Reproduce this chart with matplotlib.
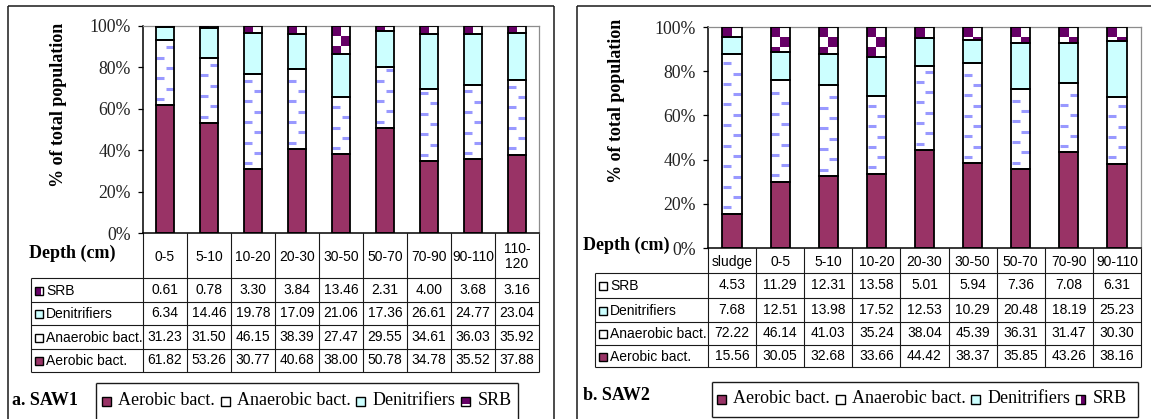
import numpy as np
import matplotlib
matplotlib.use("Agg")
import matplotlib.pyplot as plt
from matplotlib.patches import Rectangle

W, H, DPI = 1151, 419, 100

# ---- data -------------------------------------------------------------
depths_a = ["0-5", "5-10", "10-20", "20-30", "30-50", "50-70", "70-90", "90-110", "110-\n120"]
aerobic_a = [61.82, 53.26, 30.77, 40.68, 38.00, 50.78, 34.78, 35.52, 37.88]
anaerobic_a = [31.23, 31.50, 46.15, 38.39, 27.47, 29.55, 34.61, 36.03, 35.92]
denitrifiers_a = [6.34, 14.46, 19.78, 17.09, 21.06, 17.36, 26.61, 24.77, 23.04]
srb_a = [0.61, 0.78, 3.30, 3.84, 13.46, 2.31, 4.00, 3.68, 3.16]

depths_b = ["sludge", "0-5", "5-10", "10-20", "20-30", "30-50", "50-70", "70-90", "90-110"]
aerobic_b = [15.56, 30.05, 32.68, 33.66, 44.42, 38.37, 35.85, 43.26, 38.16]
anaerobic_b = [72.22, 46.14, 41.03, 35.24, 38.04, 45.39, 36.31, 31.47, 30.30]
denitrifiers_b = [7.68, 12.51, 13.98, 17.52, 12.53, 10.29, 20.48, 18.19, 25.23]
srb_b = [4.53, 11.29, 12.31, 13.58, 5.01, 5.94, 7.36, 7.08, 6.31]

legend_names = ["Aerobic bact.", "Anaerobic bact.", "Denitrifiers", "SRB"]
table_names = ["SRB", "Denitrifiers", "Anaerobic bact.", "Aerobic bact."]
y_ticks = [0, 20, 40, 60, 80, 100]

# ---- style ------------------------------------------------------------
AEROBIC_C = "#993366"
DENIT_C = "#CCFFFF"
SRB_C = "#660066"
DASH_C = "#9999FF"
SERIF = ["Liberation Serif", "DejaVu Serif"]
SANS = ["Liberation Sans", "DejaVu Sans"]
LINE_C = "#1a1a1a"

fig = plt.figure(figsize=(W / DPI, H / DPI), dpi=DPI)
over = fig.add_axes([0, 0, 1, 1], zorder=0)
over.set_xlim(0, W)
over.set_ylim(H, 0)
over.axis("off")


def px_axes(x0, y0, x1, y1):
    ax = fig.add_axes([x0 / W, 1 - y1 / H, (x1 - x0) / W, (y1 - y0) / H], zorder=1)
    ax.set_facecolor("none")
    return ax


def hline(x0, x1, y, lw=0.8, color=LINE_C):
    over.plot([x0, x1], [y, y], color=color, lw=lw, solid_capstyle="butt")


def vline(x, y0, y1, lw=0.8, color=LINE_C):
    over.plot([x, x], [y0, y1], color=color, lw=lw, solid_capstyle="butt")


def draw_icon(x, yc, name, size, srb_style):
    y0 = yc - size / 2
    if name == "Aerobic bact.":
        over.add_patch(Rectangle((x, y0), size, size, fc=AEROBIC_C, ec="black", lw=1.0))
    elif name == "Anaerobic bact.":
        over.add_patch(Rectangle((x, y0), size, size, fc="white", ec="black", lw=1.0))
    elif name == "Denitrifiers":
        over.add_patch(Rectangle((x, y0), size, size, fc=DENIT_C, ec="black", lw=1.0))
    else:
        over.add_patch(Rectangle((x, y0), size, size, fc="white", ec="none"))
        if srb_style == "full":
            over.add_patch(Rectangle((x, y0), size, size * 0.8, fc=SRB_C, ec="none"))
        elif srb_style == "left":
            over.add_patch(Rectangle((x, y0), size * 0.7, size, fc=SRB_C, ec="none"))
        elif srb_style == "right":
            over.add_patch(Rectangle((x + size * 0.5, y0), size * 0.5, size, fc=SRB_C, ec="none"))
        over.add_patch(Rectangle((x, y0), size, size, fc="none", ec="black", lw=1.0))


def draw_stack(ax, cfg, aer, ana, den, srb):
    n = len(aer)
    x = np.arange(n)
    w = cfg["bar_w"]
    px0, py0, px1, py1 = cfg["plot"]
    unit = 100.0 / (py1 - py0)  # data units per pixel
    layers = [(aer, AEROBIC_C, None), (ana, "white", "dash"),
              (den, DENIT_C, None), (srb, "white", "check")]
    bottom = np.zeros(n)
    for vals, fc, pat in layers:
        vals = np.asarray(vals, dtype=float)
        ax.bar(x, vals, w, bottom=bottom, color=fc, edgecolor="none", zorder=2)
        if pat == "dash":
            step = 10.3 * unit
            for i in range(n):
                b, t = bottom[i], bottom[i] + vals[i]
                y = b + step * 0.6
                k = 0
                while y < t - step * 0.3:
                    if k % 2 == 0:
                        xa, xb = x[i] - w / 2 + 0.04 * w, x[i] - w / 2 + 0.46 * w
                    else:
                        xa, xb = x[i] - w / 2 + 0.54 * w, x[i] - w / 2 + 0.96 * w
                    ax.plot([xa, xb], [y, y], color=DASH_C, lw=2.2,
                            solid_capstyle="butt", zorder=3)
                    y += step
                    k += 1
        elif pat == "check":
            ch = 10.0 * unit
            for i in range(n):
                b, t = bottom[i], bottom[i] + vals[i]
                r = 0
                while t - r * ch > b + 1e-9:
                    ya = max(t - (r + 1) * ch, b)
                    yb = t - r * ch
                    cx0 = x[i] - w / 2 + (r % 2) * w / 2
                    ax.add_patch(Rectangle((cx0, ya), w / 2, yb - ya, fc=SRB_C,
                                           ec="none", zorder=3))
                    r += 1
        ax.bar(x, vals, w, bottom=bottom, fill=False, edgecolor="black", lw=1.3, zorder=4)
        bottom += vals


def draw_panel(cfg, cats, aer, ana, den, srb):
    px0, py0, px1, py1 = cfg["plot"]
    n = len(cats)

    # outer frame of the panel
    fx0, fy0, fx1 = cfg["frame"]
    hline(fx0, fx1 if fx1 else W, fy0, lw=1.1)
    vline(fx0, fy0, H, lw=1.1)
    if fx1:
        vline(fx1, fy0, H, lw=1.1)

    ax = px_axes(px0, py0, px1, py1)
    draw_stack(ax, cfg, aer, ana, den, srb)
    ax.set_xlim(-0.5, n - 0.5)
    ax.set_ylim(0, 100)
    ax.set_xticks([])
    ax.set_yticks(y_ticks)
    ax.set_yticklabels([f"{t}%" for t in y_ticks], fontfamily=SERIF, fontsize=12.8,
                       color="#222222")
    ax.tick_params(axis="y", direction="out", length=3.6, width=0.9, pad=5.0,
                   color="black")
    for side in ("top", "right"):
        ax.spines[side].set_color("#8c8c8c")
        ax.spines[side].set_linewidth(0.9)
    for side in ("left", "bottom"):
        ax.spines[side].set_color("black")
        ax.spines[side].set_linewidth(1.1)
    ax.set_ylabel("% of total population", fontfamily=SERIF, fontsize=13,
                  fontweight="bold")
    lx, ly = cfg["ylabel"]
    ax.yaxis.set_label_coords((lx - px0) / (px1 - px0), (py1 - ly) / (py1 - py0))

    # data table
    xs = np.linspace(px0, px1, n + 1)
    rows = cfg["rows"]
    tl = cfg["table_left"]
    for xe in xs:
        vline(xe, py1, rows[-1])
    vline(tl, rows[0], rows[-1])
    for yr in rows:
        hline(tl, px1, yr)
    hc = (py1 + rows[0]) / 2
    for i, c in enumerate(cats):
        over.text((xs[i] + xs[i + 1]) / 2, hc + 1, c, ha="center", va="center",
                  fontfamily=SANS, fontsize=10, linespacing=1.15)
    over.text(cfg["depth"][0], cfg["depth"][1], "Depth (cm)", ha="left", va="center",
              fontfamily=SERIF, fontsize=13, fontweight="bold")

    series = {"SRB": srb, "Denitrifiers": den, "Anaerobic bact.": ana, "Aerobic bact.": aer}
    for r, name in enumerate(table_names):
        yc = (rows[r] + rows[r + 1]) / 2
        draw_icon(tl + 4, yc + 1, name, 8, cfg["srb_table"])
        over.text(tl + 15, yc + 1, name, ha="left", va="center", fontfamily=SANS,
                  fontsize=10)
        for i, v in enumerate(series[name]):
            over.text((xs[i] + xs[i + 1]) / 2, yc, f"{v:.2f}", ha="center", va="center",
                      fontfamily=SANS, fontsize=10)

    # caption
    over.text(cfg["caption_pos"][0], cfg["caption_pos"][1], cfg["caption"], ha="left",
              va="center", fontfamily=SERIF, fontsize=13, fontweight="bold")

    # legend box
    bx0, by0, bx1, by1 = cfg["legend_box"]
    hline(bx0, bx1, by0, lw=1.0)
    vline(bx0, by0, by1, lw=1.0)
    vline(bx1, by0, by1, lw=1.0)
    if by1 < H:
        hline(bx0, bx1, by1, lw=1.0)
    renderer = fig.canvas.get_renderer()
    lxp, lyp = cfg["legend_start"]
    for name in legend_names:
        draw_icon(lxp, lyp + 1, name, 9, cfg["srb_legend"])
        lxp += 9 + 7
        t = over.text(lxp, lyp, name, ha="left", va="center", fontfamily=SERIF,
                      fontsize=13)
        lxp += t.get_window_extent(renderer).width + 6


cfg_a = dict(plot=(143, 26, 539, 233), bar_w=0.43, frame=(8, 6, 554),
             rows=[278, 301.5, 325, 348.5, 372], table_left=31,
             ylabel=(67, 105), depth=(29, 253), caption="a. SAW1", caption_pos=(12, 400),
             legend_box=(96, 383, 518, 420), legend_start=(102, 400),
             srb_table="left", srb_legend="full")
cfg_b = dict(plot=(708, 27, 1141, 248), bar_w=0.40, frame=(577, 6, None),
             rows=[273, 297.5, 321.5, 345, 367], table_left=595,
             ylabel=(625, 101), depth=(583, 245), caption="b. SAW2", caption_pos=(583, 395),
             legend_box=(712, 382, 1138, 417), legend_start=(717, 398),
             srb_table="white", srb_legend="right")

fig.canvas.draw()
draw_panel(cfg_a, depths_a, aerobic_a, anaerobic_a, denitrifiers_a, srb_a)
draw_panel(cfg_b, depths_b, aerobic_b, anaerobic_b, denitrifiers_b, srb_b)

fig.savefig("out.png", dpi=DPI, facecolor="white")
